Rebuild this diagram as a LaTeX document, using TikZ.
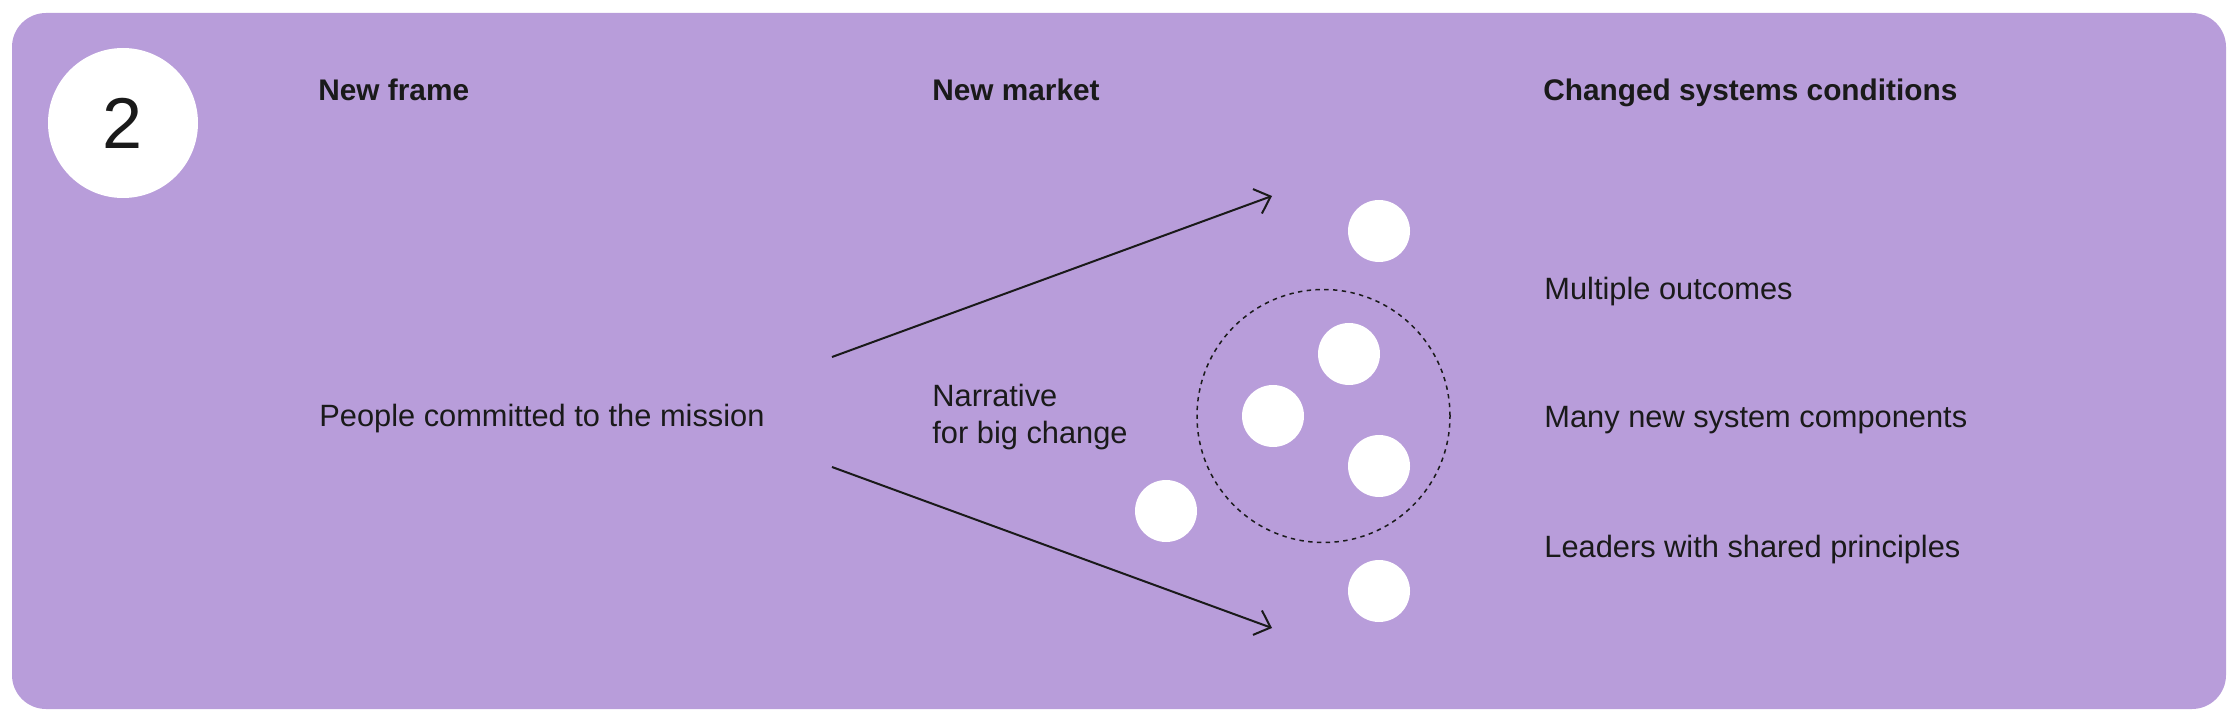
\documentclass[tikz,border=0pt]{standalone}
\usepackage{fontspec}
\setmainfont{Liberation Sans}
\usetikzlibrary{arrows.meta}
\definecolor{panel}{HTML}{B89DDA}
\definecolor{ink}{HTML}{1A1A1A}
\begin{document}
\begin{tikzpicture}[x=0.5pt,y=-0.5pt,
  txt/.style={anchor=base west, inner sep=0pt, text=ink, font=\fontsize{15.4}{18.5}\selectfont},
  head/.style={txt, font=\fontsize{14.9}{18}\selectfont\bfseries},
  dot/.style={circle, fill=white, minimum size=31pt, inner sep=0pt},
  conn/.style={draw=ink, line width=1pt, -{Straight Barb[length=7pt,width=13pt,line width=1pt]}}
]
\useasboundingbox (0,0) rectangle (2240,727);
\fill[panel, rounded corners=17pt] (12,13) rectangle (2226,709);

\node[circle, fill=white, minimum size=75pt, inner sep=0pt, text=ink,
      font=\fontsize{36}{36}\selectfont] (num) at (123,123) {2};

\node[head] (h1) at (318,101) {New frame};
\node[head] (h2) at (932,101) {New market};
\node[head] (h3) at (1543,101) {Changed systems conditions};

\node[txt] (people) at (319,427) {People committed to the mission};
\node[txt] (narr1) at (932,407) {Narrative};
\node[txt] (narr2) at (932,444) {for big change};

\node[txt] (c1) at (1544,300) {Multiple outcomes};
\node[txt] (c2) at (1544,428) {Many new system components};
\node[txt] (c3) at (1544,557) {Leaders with shared principles};

\node[circle, draw=ink, line width=0.75pt, dash pattern=on 2.2pt off 2.2pt,
      minimum size=126.5pt, inner sep=0pt] (cluster) at (1323.5,416) {};

\node[dot] (d1) at (1379,231) {};
\node[dot] (d2) at (1349,354) {};
\node[dot] (d3) at (1273,416) {};
\node[dot] (d4) at (1379,466) {};
\node[dot] (d5) at (1166,511) {};
\node[dot] (d6) at (1379,591) {};

\coordinate (a1s) at (832,357);
\coordinate (a1e) at (1272,196);
\coordinate (a2s) at (832,467);
\coordinate (a2e) at (1272,628);
\draw[conn] (a1s) -- (a1e);
\draw[conn] (a2s) -- (a2e);
\end{tikzpicture}
\end{document}
